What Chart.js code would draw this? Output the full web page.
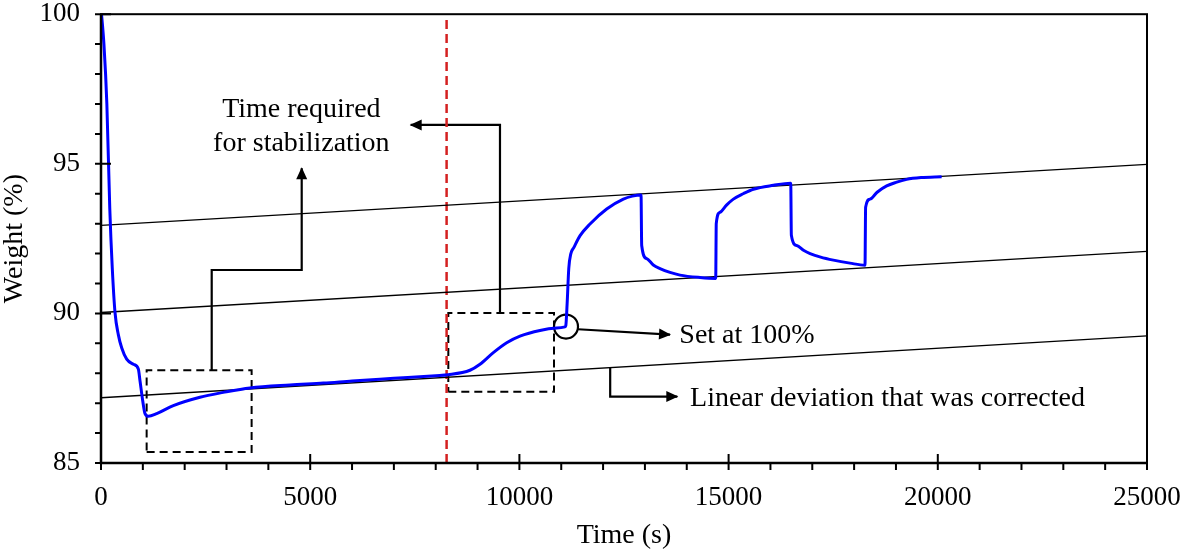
<!DOCTYPE html>
<html>
<head>
<meta charset="utf-8">
<script src="https://cdn.jsdelivr.net/npm/chart.js@4.4.1/dist/chart.umd.min.js"></script>
<style>
  html, body { margin: 0; padding: 0; background: #fff; }
  #chart { display: block; }
</style>
</head>
<body>
<canvas id="chart" width="1180" height="550"></canvas>
<script>
// weight trace: time (s) against weight (%)
const timeS = [
  0, 70, 140, 210, 270, 335, 414, 494, 614, 773, 892, 932, 996, 1052, 1131, 1331,
  1729, 2366, 2924, 3561, 4517, 5314, 6000, 7000, 8000, 8300,
  8819, 9058, 9377, 9696, 10014, 10492, 10891, 11090,
  11110, 11140, 11180, 11230, 11300, 11450, 11688, 12086, 12484, 12700, 12907,
  12923, 13043, 13200, 13361, 13600, 13839, 14317, 14692,
  14705, 14795, 14950, 15114, 15350, 15592, 16070, 16485,
  16500, 16628, 16800, 16947, 17200, 17504, 17900, 18260,
  18275, 18380, 18550, 18778, 19000, 19256, 19600, 20092
];
const weightPct = [
  100.2, 99.0, 97.0, 93.5, 91.5, 90.03, 89.29, 88.85, 88.47, 88.30, 88.14, 87.75, 87.09, 86.65, 86.56, 86.65,
  86.92, 87.20, 87.36, 87.51, 87.61, 87.67, 87.74, 87.83, 87.92, 87.95,
  88.10, 88.30, 88.69, 89.02, 89.24, 89.43, 89.51, 89.55,
  89.60, 90.30, 91.50, 92.00, 92.20, 92.60, 92.99, 93.49, 93.82, 93.92, 93.96,
  92.27, 91.83, 91.62, 91.50, 91.37, 91.28, 91.20, 91.17,
  93.00, 93.38, 93.62, 93.82, 94.00, 94.15, 94.28, 94.35,
  92.61, 92.27, 92.10, 92.00, 91.88, 91.78, 91.68, 91.61,
  93.55, 93.82, 94.05, 94.26, 94.38, 94.48, 94.54, 94.57
];

// straight drift lines, values at both ends of the time axis
const driftTime = [0, 25000];
const driftLow = [87.18, 89.25];
const driftMid = [90.03, 92.07];
const driftHigh = [92.94, 94.98];

const stabilizedAt = 8260;
const setPoint = { x: 11114, y: 89.56 };

const xTickValues = [0, 5000, 10000, 15000, 20000, 25000];
const yTickValues = [85, 90, 95, 100];

// callouts, in data units
const boxes = [
  { t: [1091, 3600], w: [85.37, 88.10] },
  { t: [8301, 10827], w: [87.38, 90.01] }
];
const arrows = [
  [[2646, 88.10], [2646, 91.45], [4797, 91.45], [4797, 94.85]],
  [[9536, 90.01], [9536, 96.30], [7402, 96.30]],
  [[11401, 89.47], [13600, 89.29]],
  [[12170, 88.20], [12170, 87.22], [13774, 87.22]]
];
const notes = [
  { text: 'Time required', t: 4789, w: 96.55, align: 'center' },
  { text: 'for stabilization', t: 4789, w: 95.44, align: 'center' },
  { text: 'Set at 100%', t: 13822, w: 89.0, align: 'left' },
  { text: 'Linear deviation that was corrected', t: 14078, w: 86.9, align: 'left' }
];

const serif = '"Liberation Serif", "Times New Roman", serif';

function pts(ts, ws) {
  return ts.map((t, i) => ({ x: t, y: ws[i] }));
}

const datasets = [];
datasets.push({
  data: pts(timeS, weightPct),
  borderColor: '#0000ff',
  borderWidth: 3,
  cubicInterpolationMode: 'monotone',
  pointRadius: 0
});
[driftLow, driftMid, driftHigh].forEach(d => {
  datasets.push({ data: pts(driftTime, d), borderColor: '#000', borderWidth: 1.3, pointRadius: 0 });
});
datasets.push({
  data: [{ x: stabilizedAt, y: 85 }, { x: stabilizedAt, y: 100 }],
  borderColor: '#d42020', borderWidth: 2.5, borderDash: [9, 5], pointRadius: 0
});
boxes.forEach(b => {
  datasets.push({
    data: [
      { x: b.t[0], y: b.w[0] }, { x: b.t[1], y: b.w[0] }, { x: b.t[1], y: b.w[1] },
      { x: b.t[0], y: b.w[1] }, { x: b.t[0], y: b.w[0] }
    ],
    borderColor: '#000', borderWidth: 2, borderDash: [8, 5], pointRadius: 0
  });
});
arrows.forEach(a => {
  datasets.push({
    data: a.map(p => ({ x: p[0], y: p[1] })),
    borderColor: '#000', borderWidth: 2.2, pointRadius: 0, arrow: true
  });
});
datasets.push({
  data: [setPoint],
  showLine: false,
  pointRadius: 12,
  pointBorderWidth: 2.2,
  pointBorderColor: '#000',
  pointBackgroundColor: 'rgba(0,0,0,0)'
});

// arrowheads, frame, tick marks and callout text
const decor = {
  id: 'decor',
  afterDatasetsDraw(chart) {
    const ctx = chart.ctx;
    chart.data.datasets.forEach((ds, i) => {
      if (!ds.arrow) return;
      const p = chart.getDatasetMeta(i).data;
      const a = p[p.length - 2], b = p[p.length - 1];
      const ang = Math.atan2(b.y - a.y, b.x - a.x);
      ctx.save();
      ctx.translate(b.x, b.y);
      ctx.rotate(ang);
      ctx.beginPath();
      ctx.moveTo(1, 0);
      ctx.lineTo(-11, -5.5);
      ctx.lineTo(-11, 5.5);
      ctx.closePath();
      ctx.fillStyle = '#000';
      ctx.fill();
      ctx.restore();
    });

    const xs = chart.scales.x, ys = chart.scales.y;
    ctx.save();
    ctx.font = '28px ' + serif;
    ctx.fillStyle = '#000';
    ctx.textBaseline = 'alphabetic';
    notes.forEach(n => {
      ctx.textAlign = n.align;
      ctx.fillText(n.text, xs.getPixelForValue(n.t), ys.getPixelForValue(n.w));
    });
    ctx.restore();
  },
  afterDraw(chart) {
    const ctx = chart.ctx;
    const { left, right, top, bottom } = chart.chartArea;
    const xs = chart.scales.x, ys = chart.scales.y;
    ctx.save();
    ctx.strokeStyle = '#000';
    ctx.lineWidth = 2;
    ctx.strokeRect(left, top, right - left, bottom - top);
    ctx.lineWidth = 2.5;
    ctx.beginPath();
    ctx.moveTo(left, top);
    ctx.lineTo(left, bottom);
    ctx.lineTo(right, bottom);
    ctx.stroke();
    ctx.lineWidth = 2;
    ctx.beginPath();
    for (let v = 0; v <= 25000; v += 1000) {
      const x = xs.getPixelForValue(v);
      const major = v % 5000 === 0;
      ctx.moveTo(x, bottom + 7);
      ctx.lineTo(x, major ? bottom - 9 : bottom);
    }
    for (let v = 85; v <= 100; v += 1) {
      const y = ys.getPixelForValue(v);
      const major = v % 5 === 0;
      ctx.moveTo(left - 6, y);
      ctx.lineTo(major ? left + 10 : left, y);
    }
    ctx.stroke();
    ctx.restore();
  }
};

new Chart(document.getElementById('chart'), {
  type: 'line',
  data: { datasets },
  options: {
    responsive: false,
    animation: false,
    events: [],
    layout: { padding: { left: 0, top: 10, right: 33, bottom: 0 } },
    plugins: { legend: { display: false }, tooltip: { enabled: false } },
    scales: {
      x: {
        type: 'linear', min: 0, max: 25000,
        grid: { display: false, drawTicks: false },
        border: { display: false },
        afterBuildTicks: s => { s.ticks = xTickValues.map(v => ({ value: v })); },
        afterFit: s => { s.height = 87; s.paddingLeft = 0; s.paddingRight = 0; },
        ticks: { color: '#000', font: { family: serif, size: 27 }, padding: 19, maxRotation: 0, autoSkip: false,
                 callback: v => String(v) },
        title: { display: true, text: 'Time (s)', color: '#000', font: { family: serif, size: 28, lineHeight: 1 }, padding: 0 }
      },
      y: {
        type: 'linear', min: 85, max: 100,
        grid: { display: false, drawTicks: false },
        border: { display: false },
        afterBuildTicks: s => { s.ticks = yTickValues.map(v => ({ value: v })); },
        afterFit: s => { s.width = 101; s.paddingTop = 0; s.paddingBottom = 0; },
        ticks: { color: '#000', font: { family: serif, size: 27 }, padding: 21, callback: v => String(v) },
        title: { display: true, text: 'Weight (%)', color: '#000', font: { family: serif, size: 28, lineHeight: 1 }, padding: { top: 1 } }
      }
    }
  },
  plugins: [decor]
});
</script>
</body>
</html>
